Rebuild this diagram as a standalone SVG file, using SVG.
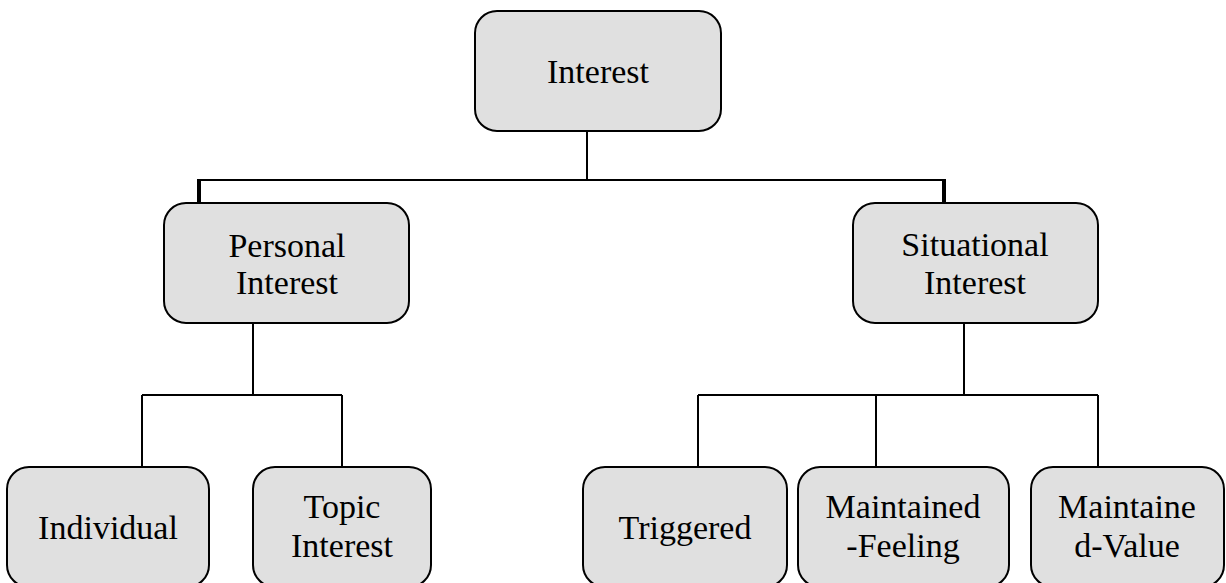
<svg xmlns="http://www.w3.org/2000/svg" width="1226" height="583" viewBox="0 0 1226 583">
<style>
.box{fill:#e0e0e0;stroke:#000;stroke-width:2}
.t{font-family:"Liberation Serif","DejaVu Serif",serif;font-size:34px;fill:#000;text-anchor:middle}
.c{fill:none;stroke:#000;stroke-width:2}
.thick{fill:none;stroke:#000;stroke-width:4}
</style>
<rect width="1226" height="583" fill="#fff"/>
<g id="connectors">
<path class="c" d="M587,131 V180 M199,180 H944"/>
<path class="thick" d="M199,179 V203 M944,179 V203"/>
<path class="c" d="M253,323 V395 M142,395 H342 M142,395 V467 M342,395 V467"/>
<path class="c" d="M964,323 V395 M698,395 H1098 M698,395 V467 M876,395 V467 M1098,395 V467"/>
</g>
<g id="interest">
<rect class="box" x="475" y="11" width="246" height="120" rx="22"/>
<text class="t" x="598" y="83">Interest</text>
</g>
<g id="personal">
<rect class="box" x="164" y="203" width="245" height="120" rx="22"/>
<text class="t" x="287" y="257">Personal</text>
<text class="t" x="287" y="294">Interest</text>
</g>
<g id="situational">
<rect class="box" x="853" y="203" width="245" height="120" rx="22"/>
<text class="t" x="975" y="256">Situational</text>
<text class="t" x="975" y="294">Interest</text>
</g>
<g id="individual">
<rect class="box" x="7" y="467" width="202" height="120" rx="22"/>
<text class="t" x="108" y="539">Individual</text>
</g>
<g id="topic">
<rect class="box" x="253" y="467" width="178" height="120" rx="22"/>
<text class="t" x="342" y="518">Topic</text>
<text class="t" x="342" y="557">Interest</text>
</g>
<g id="triggered">
<rect class="box" x="583" y="467" width="204" height="120" rx="22"/>
<text class="t" x="685" y="539">Triggered</text>
</g>
<g id="feeling">
<rect class="box" x="798" y="467" width="211" height="120" rx="22"/>
<text class="t" x="903" y="518">Maintained</text>
<text class="t" x="903" y="557">-Feeling</text>
</g>
<g id="value">
<rect class="box" x="1031" y="467" width="193" height="120" rx="22"/>
<text class="t" x="1127" y="518">Maintaine</text>
<text class="t" x="1127" y="557">d-Value</text>
</g>
</svg>
